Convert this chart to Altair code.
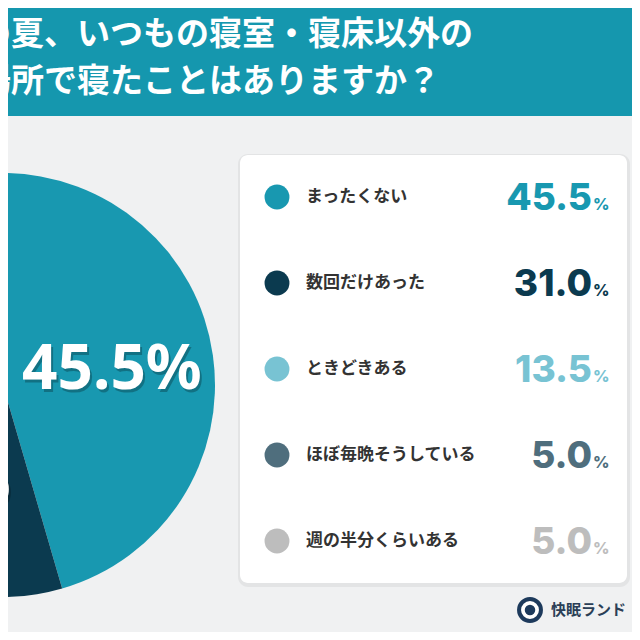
import altair as alt
import pandas as pd

# ---- data ----
categories = ["まったくない", "数回だけあった", "ときどきある", "ほぼ毎晩そうしている", "週の半分くらいある"]
values = [45.5, 31.0, 13.5, 5.0, 5.0]
colors = ["#1898b0", "#0b3a4f", "#78c3d3", "#4f6e7d", "#bdbdbd"]
title_lines = ["の夏、いつもの寝室・寝床以外の", "場所で寝たことはありますか？"]
brand = "快眠ランド"

W, H = 624, 624
OFF = 8  # page margin; reference pixel coords minus OFF -> chart coords

df = pd.DataFrame({
    "category": categories,
    "value": values,
    "order": list(range(len(categories))),
})
df["pct"] = [f"{v:.1f}%" for v in values]
df["pie_label"] = [f"{v:.1f}%" if v >= 10 else "" for v in values]

color = alt.Color("category:N", scale=alt.Scale(domain=categories, range=colors), legend=None)
one = pd.DataFrame({"a": [0]})

# ---- background decorations ----
header = alt.Chart(one).mark_rect(color="#1597ae").encode(
    x=alt.value(0), x2=alt.value(W), y=alt.value(0), y2=alt.value(116 - OFF)
)
title1 = alt.Chart(one).mark_text(
    align="left", baseline="middle", font="Noto Sans CJK JP", fontSize=33,
    fontWeight="bold", color="white"
).encode(x=alt.value(-22 - OFF), y=alt.value(35 - OFF), text=alt.value(title_lines[0]))
title2 = alt.Chart(one).mark_text(
    align="left", baseline="middle", font="Noto Sans CJK JP", fontSize=33,
    fontWeight="bold", color="white"
).encode(x=alt.value(-22 - OFF), y=alt.value(82 - OFF), text=alt.value(title_lines[1]))

# ---- pie ----
cx, cy, R = 3 - OFF, 385 - OFF, 212
pie = alt.Chart(df).mark_arc(radius=R).encode(
    theta=alt.Theta("value:Q", stack=True),
    order=alt.Order("order:Q"),
    color=color,
    x=alt.value(cx), y=alt.value(cy),
)
lbl_radius = alt.Radius(
    "value:Q", stack=False,
    scale=alt.Scale(type="linear", zero=False, domain=[31, 45.5], range=[129, 110]),
)
pie_shadow = alt.Chart(df).mark_text(
    font="Noto Sans", fontSize=62, fontWeight="bold",
    color="black", opacity=0.25, dx=2, dy=3, baseline="middle"
).encode(
    theta=alt.Theta("value:Q", stack=True), order=alt.Order("order:Q"),
    radius=lbl_radius,
    text="pie_label:N", x=alt.value(cx), y=alt.value(cy),
)
pie_text = alt.Chart(df).mark_text(
    font="Noto Sans", fontSize=62, fontWeight="bold",
    color="white", baseline="middle"
).encode(
    theta=alt.Theta("value:Q", stack=True), order=alt.Order("order:Q"),
    radius=lbl_radius,
    text="pie_label:N", x=alt.value(cx), y=alt.value(cy),
)

# ---- legend panel ----
panel_shadow = alt.Chart(one).mark_rect(cornerRadius=10, color="#000000", opacity=0.05).encode(
    x=alt.value(238 - OFF), x2=alt.value(630 - OFF), y=alt.value(154 - OFF), y2=alt.value(587 - OFF)
)
panel = alt.Chart(one).mark_rect(cornerRadius=8, color="white").encode(
    x=alt.value(240 - OFF), x2=alt.value(627 - OFF), y=alt.value(155 - OFF), y2=alt.value(583 - OFF)
)

yrow = alt.Y(
    "category:N", sort=categories, axis=None,
    scale=alt.Scale(type="point", domain=categories, range=[197 - OFF, 541 - OFF], padding=0),
)
dots = alt.Chart(df).mark_circle(size=620, opacity=1).encode(
    x=alt.value(277 - OFF), y=yrow, color=color
)
labels = alt.Chart(df).mark_text(
    align="left", baseline="middle", font="Noto Sans CJK JP", fontSize=17,
    fontWeight="bold", color="#333333"
).encode(x=alt.value(306 - OFF), y=yrow, text="category:N")
nums = alt.Chart(df).mark_text(
    align="right", baseline="alphabetic", font="Inter", fontSize=37,
    fontWeight=800, dy=13
).encode(x=alt.value(592 - OFF), y=yrow, text=alt.Text("value:Q", format=".1f"), color=color)
pcts = alt.Chart(df).mark_text(
    align="left", baseline="alphabetic", font="Inter", fontSize=16,
    fontWeight=800, dy=13, text="%"
).encode(x=alt.value(593 - OFF), y=yrow, color=color)

# ---- brand ----
logo = alt.Chart(one).mark_circle(size=480, color="#ffffff", stroke="#1d3a5c", strokeWidth=4, opacity=1).encode(
    x=alt.value(530 - OFF), y=alt.value(610 - OFF)
)
logo_in = alt.Chart(one).mark_circle(size=110, color="#1d3a5c", opacity=1).encode(
    x=alt.value(530 - OFF), y=alt.value(610 - OFF)
)
brand_text = alt.Chart(one).mark_text(
    align="left", baseline="middle", font="Noto Sans CJK JP", fontSize=15,
    fontWeight="bold", color="#2b3f57"
).encode(x=alt.value(551 - OFF), y=alt.value(610 - OFF), text=alt.value(brand))

chart = alt.layer(
    header, title1, title2,
    pie, pie_shadow, pie_text,
    panel_shadow, panel, dots, labels, nums, pcts,
    logo, logo_in, brand_text,
).properties(
    width=W, height=H, padding=0, autosize=alt.AutoSizeParams(type="none"),
    background="#f0f1f2",
).configure_view(stroke=None)

chart.save("out.html", embed_options={"renderer": "svg", "actions": False})
